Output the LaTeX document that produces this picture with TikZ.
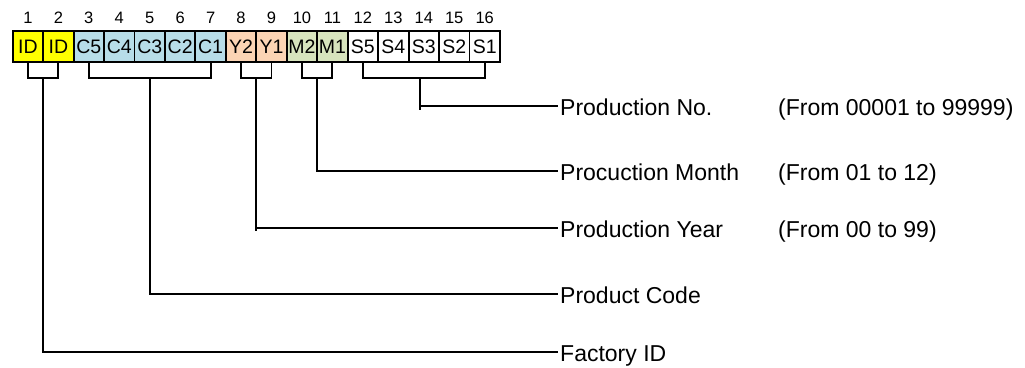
\documentclass[tikz,border=0pt]{standalone}
\usepackage{fontspec}
\setmainfont{Liberation Sans}
\usetikzlibrary{calc}
\definecolor{cid}{HTML}{FFFF00}
\definecolor{ccode}{HTML}{B7DDE8}
\definecolor{cyear}{HTML}{FBD4B4}
\definecolor{cmonth}{HTML}{D7E4BD}
\definecolor{cser}{HTML}{FFFFFF}
\begin{document}
\begin{tikzpicture}[x=1pt,y=-1pt,
  cell/.style={draw, line width=1.9pt, minimum width=30.45pt, minimum height=31pt,
    inner sep=0pt, outer sep=0pt, anchor=north west,
    font=\fontsize{19.5}{19.5}\selectfont, text height=13.9pt, text depth=0pt},
  num/.style={inner sep=0pt, anchor=base, font=\fontsize{16.5}{16.5}\selectfont},
  lab/.style={inner sep=0pt, anchor=base west, font=\fontsize{23}{23}\selectfont},
  conn/.style={line width=1.9pt, line join=miter}]
\useasboundingbox (0,0) rectangle (1025,367);
\foreach \i/\t/\c in {1/ID/cid, 2/ID/cid, 3/C5/ccode, 4/C4/ccode, 5/C3/ccode, 6/C2/ccode, 7/C1/ccode,
  8/Y2/cyear, 9/Y1/cyear, 10/M2/cmonth, 11/M1/cmonth,
  12/S5/cser, 13/S4/cser, 14/S3/cser, 15/S2/cser, 16/S1/cser}{
  \node[cell, fill=\c] (c\i) at ({12.7+30.45*(\i-1)},30.7) {\t};
  \node[num] (n\i) at ($(c\i.north)+(0,-7.4)$) {\i};
}
% bracket bottoms
\coordinate (bID) at ($(c1.south)!0.5!(c2.south)+(0,16.3)$);
\coordinate (bC) at ($(c3.south)!0.5!(c7.south)+(0,16.3)$);
\coordinate (bY) at ($(c8.south)!0.5!(c9.south)+(0,16.3)$);
\coordinate (bM) at ($(c10.south)!0.5!(c11.south)+(0,16.3)$);
\coordinate (bS) at (420,78);
% line ends
\coordinate (eNo) at (558,106);
\coordinate (eMonth) at (558,171);
\coordinate (eYear) at (558,228);
\coordinate (eCode) at (558,294);
\coordinate (eFactory) at (558,352);
% brackets
\draw[conn] (c1.south) |- (bID) -| (c2.south);
\draw[conn] (c3.south) |- (bC) -| (c7.south);
\draw[conn] (c8.south) |- (bY) -| (c9.south);
\draw[conn] (c10.south) |- (bM) -| (c11.south);
\draw[conn] (c12.south) |- (bS) -| (c16.south);
% stems
\draw[conn] (bS) -- ($(bS |- eNo)+(0,3.5)$);
\draw[conn] (bS |- eNo) -- (eNo);
\draw[conn] (bM) |- (eMonth);
\draw[conn] (bY) -- ($(bY |- eYear)+(0,2.5)$);
\draw[conn] (bY |- eYear) -- (eYear);
\draw[conn] (bC) |- (eCode);
\draw[conn] (bID) |- (eFactory);
% labels
\node[lab] (lNo) at ($(eNo)+(2,9.8)$) {Production No.};
\node[lab] (rNo) at (778,115.8) {(From 00001 to 99999)};
\node[lab] (lMonth) at ($(eMonth)+(2,9.8)$) {Procuction Month};
\node[lab] (rMonth) at (778,180.8) {(From 01 to 12)};
\node[lab] (lYear) at ($(eYear)+(2,9.8)$) {Production Year};
\node[lab] (rYear) at (778,237.8) {(From 00 to 99)};
\node[lab] (lCode) at ($(eCode)+(2,9.8)$) {Product Code};
\node[lab] (lFactory) at ($(eFactory)+(2,9.5)$) {Factory ID};
\end{tikzpicture}
\end{document}
